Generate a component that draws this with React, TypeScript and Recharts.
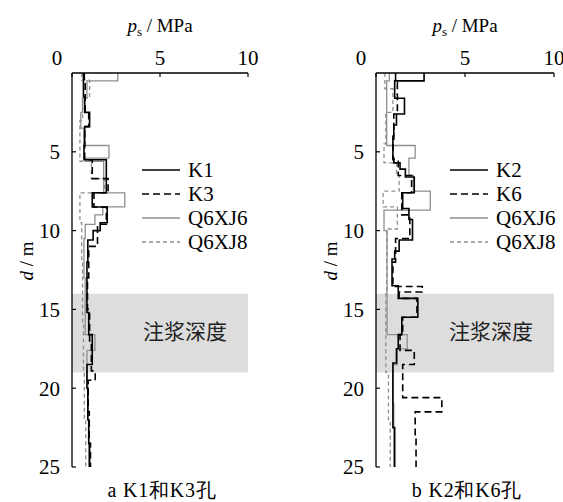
import React from 'react';
import { LineChart, Line, XAxis, YAxis, ReferenceArea } from 'recharts';

// ---------------- data ----------------
const pressureTicks = [0, 5, 10];
const depthTicks = [5, 10, 15, 20, 25];
const groutTop = 14;
const groutBottom = 19;
const groutLabel = '注浆深度';
const xTitleUnit = ' / MPa';
const yTitleUnit = ' / m';

// [layer top depth d (m), cone resistance ps (MPa)]
const K1: [number, number][] = [
  [0, 0.65], [1.5, 0.72], [2.5, 1.0], [3.4, 0.72], [4.6, 0.68], [5.5, 1.95], [7.6, 1.15],
  [8.5, 2.0], [9.5, 1.6], [10.0, 1.2], [10.6, 0.9], [12.0, 0.85], [13.5, 0.85], [15.2, 0.95],
  [16.6, 1.15], [18.5, 0.85], [20.0, 0.9], [22.0, 0.95], [23.5, 1.0], [25, 1.0],
];
const K3: [number, number][] = [
  [0, 0.7], [0.6, 0.75], [2.5, 0.95], [3.4, 0.72], [5.5, 1.15], [6.7, 2.05], [7.6, 1.25],
  [8.5, 1.95], [9.6, 1.45], [11.0, 0.95], [13.0, 0.88], [15.0, 1.0], [17.0, 1.1], [18.9, 1.32],
  [19.5, 0.92], [21.5, 0.98], [23.5, 1.05], [25, 1.05],
];
const Q6XJ6a: [number, number][] = [
  [0, 2.6], [0.5, 0.85], [1.6, 0.6], [2.5, 0.5], [3.5, 0.68], [4.6, 2.1], [5.4, 0.75], [5.6, 1.8],
  [7.6, 3.0], [8.5, 1.75], [9.0, 1.3], [9.6, 0.75], [10.5, 0.68], [13.0, 0.75], [16.6, 1.3],
  [17.6, 0.85], [19.5, 0.9], [22.0, 0.95], [25, 0.98],
];
const Q6XJ8a: [number, number][] = [
  [0, 0.55], [0.45, 1.0], [1.6, 0.6], [3.0, 0.45], [5.6, 1.1], [6.7, 1.85], [7.6, 0.45],
  [9.5, 0.55], [12.0, 0.6], [16.0, 0.65], [19.0, 0.7], [22.0, 0.78], [25, 0.8],
];

const K2: [number, number][] = [
  [0, 2.7], [0.5, 1.05], [1.6, 1.6], [2.6, 1.15], [3.3, 1.0], [4.2, 0.95], [5.4, 1.0], [5.7, 1.35],
  [6.1, 1.65], [6.6, 2.15], [7.6, 1.5], [8.6, 1.85], [9.3, 2.05], [10.6, 1.3], [11.3, 1.05],
  [11.8, 0.9], [13.5, 1.25], [14.3, 2.35], [15.5, 1.45], [16.6, 1.25], [17.5, 1.15], [18.4, 0.95],
  [20.0, 0.95], [22.5, 1.05], [25, 1.1],
];
const K6: [number, number][] = [
  [0, 1.1], [0.6, 1.2], [2.6, 1.0], [4.0, 0.95], [5.5, 1.25], [6.5, 2.0], [7.6, 1.45], [9.0, 1.9],
  [10.5, 1.1], [12.0, 0.95], [13.55, 2.6], [13.9, 1.3], [14.3, 2.3], [15.5, 1.5], [16.6, 1.35],
  [17.6, 2.15], [18.5, 1.5], [20.6, 3.7], [21.5, 2.2], [23.0, 2.25], [25, 2.3],
];
const Q6XJ6b: [number, number][] = [
  [0, 0.75], [0.5, 0.6], [4.6, 2.2], [5.4, 1.85], [6.5, 2.1], [7.5, 3.05], [8.7, 0.45], [10.0, 0.62],
  [16.6, 1.75], [17.5, 1.2], [18.5, 0.95], [21.0, 1.0], [25, 1.05],
];
const Q6XJ8b: [number, number][] = [
  [0, 0.5], [1.0, 0.95], [2.5, 0.55], [4.5, 0.45], [5.7, 1.15], [6.5, 1.3], [7.5, 0.4], [8.5, 1.2],
  [9.9, 0.6], [14.0, 0.55], [19.0, 0.7], [22.0, 0.8], [25, 0.82],
];

// ---------------- styles ----------------
const FONT = 'Liberation Serif, DejaVu Serif, serif';
const CJK = 'Noto Sans CJK SC, sans-serif';
const GRAY = '#8f8f8f';

type SeriesStyle = { name: string; data: [number, number][]; stroke: string; dash?: string; width: number };

const styleK = (name: string, data: [number, number][]): SeriesStyle => ({ name, data, stroke: '#000', width: 1.6 });
const styleKd = (name: string, data: [number, number][]): SeriesStyle => ({ name, data, stroke: '#000', dash: '7 4', width: 1.6 });
const styleQ6 = (name: string, data: [number, number][]): SeriesStyle => ({ name, data, stroke: GRAY, width: 1.3 });
const styleQ8 = (name: string, data: [number, number][]): SeriesStyle => ({ name, data, stroke: GRAY, dash: '4 3', width: 1.3 });

const leftSeries = [styleQ6('Q6XJ6', Q6XJ6a), styleQ8('Q6XJ8', Q6XJ8a), styleKd('K3', K3), styleK('K1', K1)];
const rightSeries = [styleQ6('Q6XJ6', Q6XJ6b), styleQ8('Q6XJ8', Q6XJ8b), styleKd('K6', K6), styleK('K2', K2)];
const leftLegend = [leftSeries[3], leftSeries[2], leftSeries[0], leftSeries[1]];
const rightLegend = [rightSeries[3], rightSeries[2], rightSeries[0], rightSeries[1]];

const toRows = (arr: [number, number][]) => arr.map(([d, v]) => ({ d, v }));

const XTick = (props: any) => {
  const { x, y, payload } = props;
  const dx = payload.value === 0 ? -15 : 0;
  return (
    <g>
      <line x1={x} x2={x} y1={y} y2={y + 4} stroke="#000" strokeWidth={1.2} />
      <text x={x + dx} y={y - 8} textAnchor="middle" fontSize={21} style={{ fontFamily: FONT }} fill="#000">
        {payload.value}
      </text>
    </g>
  );
};

const YTick = (props: any) => {
  const { x, y, payload } = props;
  return (
    <g>
      <line x1={x} x2={x + 4} y1={y} y2={y} stroke="#000" strokeWidth={1.2} />
      <text x={x - 12} y={y} dy="0.35em" textAnchor="end" fontSize={21} style={{ fontFamily: FONT }} fill="#000">
        {payload.value}
      </text>
    </g>
  );
};

type PanelProps = {
  left: number;
  width: number;
  marginLeft: number;
  marginRight: number;
  series: SeriesStyle[];
};

const Panel = ({ left, width, marginLeft, marginRight, series }: PanelProps) => (
  <div style={{ position: 'absolute', left, top: 0 }}>
    <LineChart
      width={width}
      height={502}
      layout="vertical"
      margin={{ top: 43, right: marginRight, bottom: 35, left: marginLeft }}
    >
      <XAxis
        type="number"
        orientation="top"
        domain={[0, 10]}
        ticks={pressureTicks}
        height={30}
        tickSize={0}
        tickMargin={0}
        tickLine={false}
        axisLine={{ stroke: '#000', strokeWidth: 1.3 }}
        tick={<XTick />}
        allowDataOverflow
      />
      <YAxis
        type="number"
        dataKey="d"
        domain={[0, 25]}
        ticks={depthTicks}
        width={40}
        tickSize={0}
        tickMargin={0}
        tickLine={false}
        axisLine={{ stroke: '#000', strokeWidth: 1.3 }}
        tick={<YTick />}
        allowDataOverflow
      />
      <ReferenceArea x1={0} x2={10} y1={groutTop} y2={groutBottom} fill="#dddddd" fillOpacity={1} stroke="none" />
      {series.map((s) => (
        <Line
          key={s.name}
          data={toRows(s.data)}
          dataKey="v"
          type="stepBefore"
          stroke={s.stroke}
          strokeWidth={s.width}
          strokeDasharray={s.dash}
          dot={false}
          activeDot={false}
          isAnimationActive={false}
        />
      ))}
    </LineChart>
  </div>
);

const LegendBlock = ({ x, items }: { x: number; items: SeriesStyle[] }) => (
  <g>
    {items.map((s, i) => {
      const y = 170 + i * 24;
      return (
        <g key={s.name}>
          <line x1={x} x2={x + 38} y1={y} y2={y} stroke={s.stroke} strokeWidth={s.width} strokeDasharray={s.dash} />
          <text x={x + 46} y={y + 7} fontSize={21} style={{ fontFamily: FONT }} fill="#000">
            {s.name}
          </text>
        </g>
      );
    })}
  </g>
);

const Titles = ({ cx, axisX, caption }: { cx: number; axisX: number; caption: string }) => (
  <g fill="#000" style={{ fontFamily: FONT }}>
    <text x={cx} y={32} textAnchor="middle" fontSize={19}>
      <tspan fontStyle="italic">p</tspan>
      <tspan fontSize={13} dy={4}>s</tspan>
      <tspan dy={-4}>{xTitleUnit}</tspan>
    </text>
    <text transform={`translate(${axisX - 39},261) rotate(-90)`} textAnchor="middle" fontSize={19}>
      <tspan fontStyle="italic">d</tspan>
      <tspan>{yTitleUnit}</tspan>
    </text>
    <text x={cx + 2} y={497} textAnchor="middle" fontSize={20} letterSpacing={0.8}>
      {caption}
    </text>
  </g>
);

export default function App() {
  return (
    <div style={{ position: 'absolute', left: 0, top: 0, width: 563, height: 502, background: '#fff' }}>
      <Panel left={0} width={280} marginLeft={32} marginRight={32} series={leftSeries} />
      <Panel left={300} width={263} marginLeft={36} marginRight={9} series={rightSeries} />
      <svg
        width={563}
        height={502}
        style={{ position: 'absolute', left: 0, top: 0, pointerEvents: 'none' }}
      >
        <Titles cx={160} axisX={72} caption="a K1和K3孔" />
        <Titles cx={465} axisX={376} caption="b K2和K6孔" />
        <LegendBlock x={142} items={leftLegend} />
        <LegendBlock x={450} items={rightLegend} />
        <text x={185} y={339} textAnchor="middle" fontSize={21} style={{ fontFamily: CJK }} fill="#222">
          {groutLabel}
        </text>
        <text x={491} y={339} textAnchor="middle" fontSize={21} style={{ fontFamily: CJK }} fill="#222">
          {groutLabel}
        </text>
      </svg>
    </div>
  );
}
